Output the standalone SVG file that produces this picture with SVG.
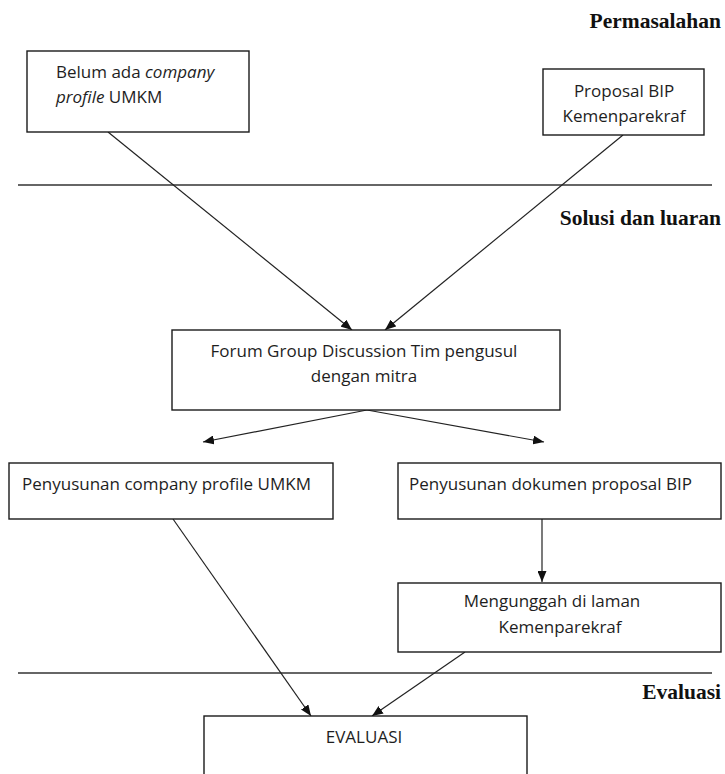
<svg xmlns="http://www.w3.org/2000/svg" width="725" height="774" viewBox="0 0 725 774">
<defs>
<marker id="ah" markerWidth="11" markerHeight="9" refX="11" refY="4.5" orient="auto" markerUnits="userSpaceOnUse">
<path d="M0,0 L11,4.5 L0,9 z" fill="#111"/>
</marker>
<style>
.box{fill:#fff;stroke:#1a1a1a;stroke-width:1.4}
.t{font-family:"Open Sans","Noto Sans",sans-serif;font-size:17px;fill:#1e1e1e}
.h{font-family:"Liberation Serif","Times New Roman",serif;font-size:21.5px;font-weight:bold;fill:#111;text-anchor:end}
.sep{stroke:#333;stroke-width:1.3}
.c{stroke:#222;stroke-width:1.2;fill:none}
</style>
</defs>
<rect width="725" height="774" fill="#fff"/>
<g id="sections">
<text class="h" x="721" y="28">Permasalahan</text>
<line class="sep" x1="18" y1="185" x2="712" y2="185"/>
<text class="h" x="721" y="225">Solusi dan luaran</text>
<line class="sep" x1="18" y1="673" x2="712" y2="673"/>
<text class="h" x="721" y="699">Evaluasi</text>
</g>
<g id="connectors">
<line class="c" x1="108" y1="132" x2="352" y2="330" marker-end="url(#ah)"/>
<line class="c" x1="623" y1="135" x2="385" y2="330" marker-end="url(#ah)"/>
<line class="c" x1="367" y1="410" x2="203" y2="442" marker-end="url(#ah)"/>
<line class="c" x1="367" y1="410" x2="544" y2="442" marker-end="url(#ah)"/>
<line class="c" x1="542" y1="519" x2="542" y2="582" marker-end="url(#ah)"/>
<line class="c" x1="173" y1="519" x2="311" y2="716" marker-end="url(#ah)"/>
<line class="c" x1="465" y1="652" x2="372" y2="716" marker-end="url(#ah)"/>
</g>
<g id="n1">
<rect class="box" x="27" y="51" width="222" height="81"/>
<text class="t" x="56" y="78">Belum ada <tspan font-style="italic">company</tspan></text>
<text class="t" x="56" y="103"><tspan font-style="italic">profile</tspan> UMKM</text>
</g>
<g id="n2">
<rect class="box" x="543" y="69" width="161" height="66"/>
<text class="t" x="624" y="97" text-anchor="middle">Proposal BIP</text>
<text class="t" x="624" y="122" text-anchor="middle">Kemenparekraf</text>
</g>
<g id="n3">
<rect class="box" x="172" y="330" width="388" height="80"/>
<text class="t" x="364" y="357" text-anchor="middle">Forum Group Discussion Tim pengusul</text>
<text class="t" x="364" y="382" text-anchor="middle">dengan mitra</text>
</g>
<g id="n4">
<rect class="box" x="9" y="463" width="324" height="56"/>
<text class="t" x="22" y="490">Penyusunan company profile UMKM</text>
</g>
<g id="n5">
<rect class="box" x="398" y="463" width="323" height="56"/>
<text class="t" x="409" y="490">Penyusunan dokumen proposal BIP</text>
</g>
<g id="n6">
<rect class="box" x="398" y="583" width="323" height="69"/>
<text class="t" x="552" y="607" text-anchor="middle">Mengunggah di laman</text>
<text class="t" x="560" y="633" text-anchor="middle">Kemenparekraf</text>
</g>
<g id="n7">
<rect class="box" x="204" y="716" width="323" height="80"/>
<text class="t" x="364" y="743" text-anchor="middle">EVALUASI</text>
</g>
</svg>
